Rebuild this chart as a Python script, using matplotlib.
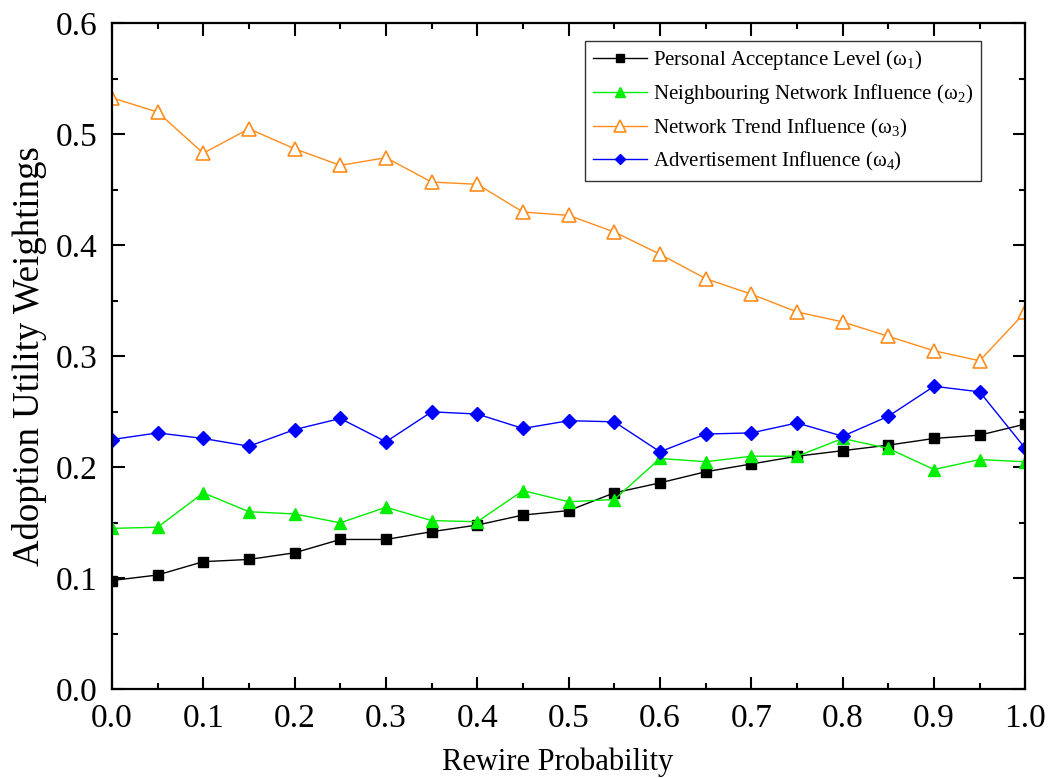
import numpy as np
import matplotlib.pyplot as plt
from matplotlib.ticker import MultipleLocator

plt.rcParams['font.family'] = ['Liberation Serif', 'DejaVu Serif']
plt.rcParams['mathtext.fontset'] = 'custom'
plt.rcParams['mathtext.rm'] = 'Liberation Serif'

rewire = np.round(np.arange(0, 1.0001, 0.05), 2)

personal = [0.098, 0.103, 0.115, 0.117, 0.123, 0.135, 0.135, 0.142, 0.148, 0.157, 0.161,
            0.177, 0.186, 0.196, 0.203, 0.210, 0.215, 0.220, 0.226, 0.229, 0.239]
neighbour = [0.145, 0.146, 0.177, 0.160, 0.158, 0.150, 0.164, 0.152, 0.151, 0.179, 0.169,
             0.171, 0.208, 0.205, 0.210, 0.210, 0.226, 0.217, 0.198, 0.207, 0.205]
trend = [0.533, 0.520, 0.483, 0.505, 0.487, 0.472, 0.479, 0.457, 0.455, 0.430, 0.427,
         0.412, 0.392, 0.370, 0.356, 0.340, 0.331, 0.318, 0.305, 0.296, 0.340]
advert = [0.225, 0.231, 0.226, 0.219, 0.234, 0.244, 0.223, 0.250, 0.248, 0.235, 0.242,
          0.241, 0.214, 0.230, 0.231, 0.240, 0.228, 0.246, 0.273, 0.268, 0.217]

fig = plt.figure(figsize=(10.56, 7.78), dpi=100)
ax = fig.add_axes([0.106, 0.114, 0.865, 0.856])

ax.plot(rewire, personal, color='black', marker='s', ms=7, lw=1,
        label='Personal Acceptance Level (ω$_1$)')
ax.plot(rewire, neighbour, color='#00ee00', marker='^', ms=9, lw=1,
        label='Neighbouring Network Influence (ω$_2$)')
ax.plot(rewire, trend, color='#ff8c1a', marker='^', ms=10, lw=1, mfc='white', mew=1.2,
        label='Network Trend Influence (ω$_3$)')
ax.plot(rewire, advert, color='blue', marker='D', ms=7, lw=1,
        label='Advertisement Influence (ω$_4$)')

ax.set_xlim(0, 1.0)
ax.set_ylim(0, 0.6)
ax.xaxis.set_major_locator(MultipleLocator(0.1))
ax.xaxis.set_minor_locator(MultipleLocator(0.05))
ax.yaxis.set_major_locator(MultipleLocator(0.1))
ax.yaxis.set_minor_locator(MultipleLocator(0.05))
ax.xaxis.set_major_formatter(lambda v, p: f'{v:.1f}')
ax.yaxis.set_major_formatter(lambda v, p: f'{v:.1f}')
ax.tick_params(which='both', direction='in', top=True, right=True, width=1.5, labelsize=24)
ax.tick_params(which='major', length=9, pad=10.5)
ax.tick_params(which='minor', length=4.5)
for s in ax.spines.values():
    s.set_linewidth(1.6)

ax.set_xlabel('Rewire Probability', fontsize=22, labelpad=10)
ax.xaxis.set_label_coords(0.488, -0.088)
ax.set_ylabel('Adoption Utility Weightings', fontsize=26.5, labelpad=6)

leg = ax.legend(loc='upper right', bbox_to_anchor=(0.951, 0.974), borderaxespad=0,
                fontsize=15, frameon=True, fancybox=False, edgecolor='black',
                handlelength=2.6, handletextpad=0.3, labelspacing=0.5, borderpad=0.35,
                markerscale=0.8)
leg.get_frame().set_linewidth(1)

plt.savefig('out.png', dpi=100)
